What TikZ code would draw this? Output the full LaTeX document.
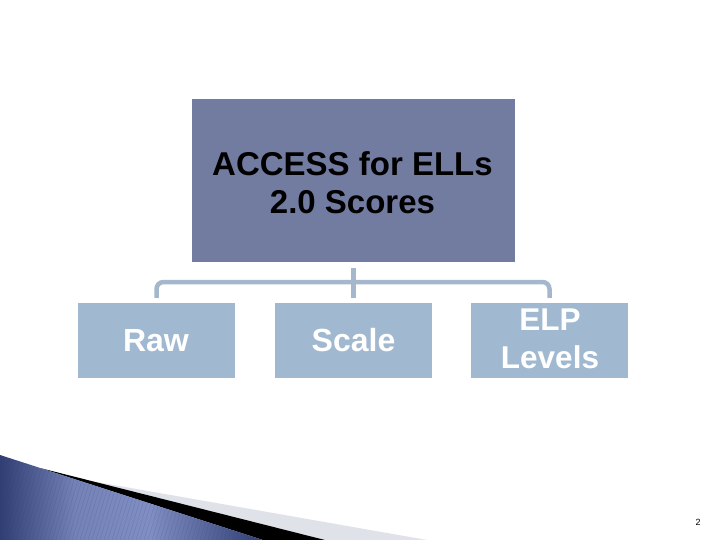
\documentclass[tikz,border=0pt]{standalone}
\usepackage{fontspec}
\setmainfont{Liberation Sans}
\begin{document}
\begin{tikzpicture}[x=1pt,y=-1pt,
  parentbox/.style={fill=parentcol, minimum width=323pt, minimum height=163pt, inner sep=0pt},
  childbox/.style={fill=childcol, minimum width=157pt, minimum height=75pt, inner sep=0pt},
  conn/.style={draw=conncol, line width=4.5pt, line cap=butt},
  ptext/.style={align=center, font=\bfseries\fontsize{33}{38}\selectfont, text=black},
  ctext/.style={align=center, font=\bfseries\fontsize{32}{38}\selectfont, text=white}]
\definecolor{parentcol}{RGB}{114,124,161}
\definecolor{childcol}{RGB}{161,185,208}
\definecolor{conncol}{RGB}{164,183,204}
\definecolor{bluedark}{RGB}{48,62,115}
\definecolor{bluelight}{RGB}{128,142,195}
\definecolor{graywedge}{RGB}{224,226,234}
\useasboundingbox (0,0) rectangle (720,540);
\fill[white] (0,0) rectangle (720,540);

% parent and children
\node[parentbox] (top) at (353.5,180.5) {};
\node[ptext] (toptext) at (352.5,182.5) {ACCESS for ELLs\\2.0 Scores};
\node[childbox] (raw) at (156.5,340.5) {};
\node[childbox] (scale) at (353.5,340.5) {};
\node[childbox] (elp) at (549.5,340.5) {};
\node[ctext, anchor=base, inner sep=0pt] (rawt) at (156,351) {Raw};
\node[ctext, anchor=base, inner sep=0pt] (scalet) at (353.5,351) {Scale};
\node[ctext, font=\bfseries\fontsize{31.5}{38}\selectfont] (elpt) at (550,338.5) {ELP\\Levels};

% connectors
\coordinate (bus) at (353.5,282);
\draw[conn, shorten <=6pt, shorten >=5pt] (top.south) -- (scale.north);
\draw[conn, rounded corners=7pt, shorten <=5pt, shorten >=5pt] (raw.north) |- (bus) -| (elp.north);

% bottom-left decoration
\fill[graywedge] (88,480.5) -- (427,540) -- (325,540) -- cycle;
\fill[black] (40,468) -- (325,540) -- (263,540) -- cycle;
\begin{scope}
  \clip (0,455) -- (263,540) -- (0,540) -- cycle;
  \shade[left color=bluedark, right color=bluelight, middle color=bluelight!85!bluedark]
    (0,455) rectangle (150,540);
  \shade[left color=bluelight, right color=bluedark]
    (150,455) rectangle (264,540);
  \foreach \i in {-100,-96,...,270} {
    \draw[bluedark, opacity=0.18, line width=0.5pt] (\i,540) -- (\i+30,440);
  }
\end{scope}

% page number
\node[font=\fontsize{9}{10}\selectfont, inner sep=0pt] (pnum) at (698,522) {2};
\end{tikzpicture}
\end{document}
